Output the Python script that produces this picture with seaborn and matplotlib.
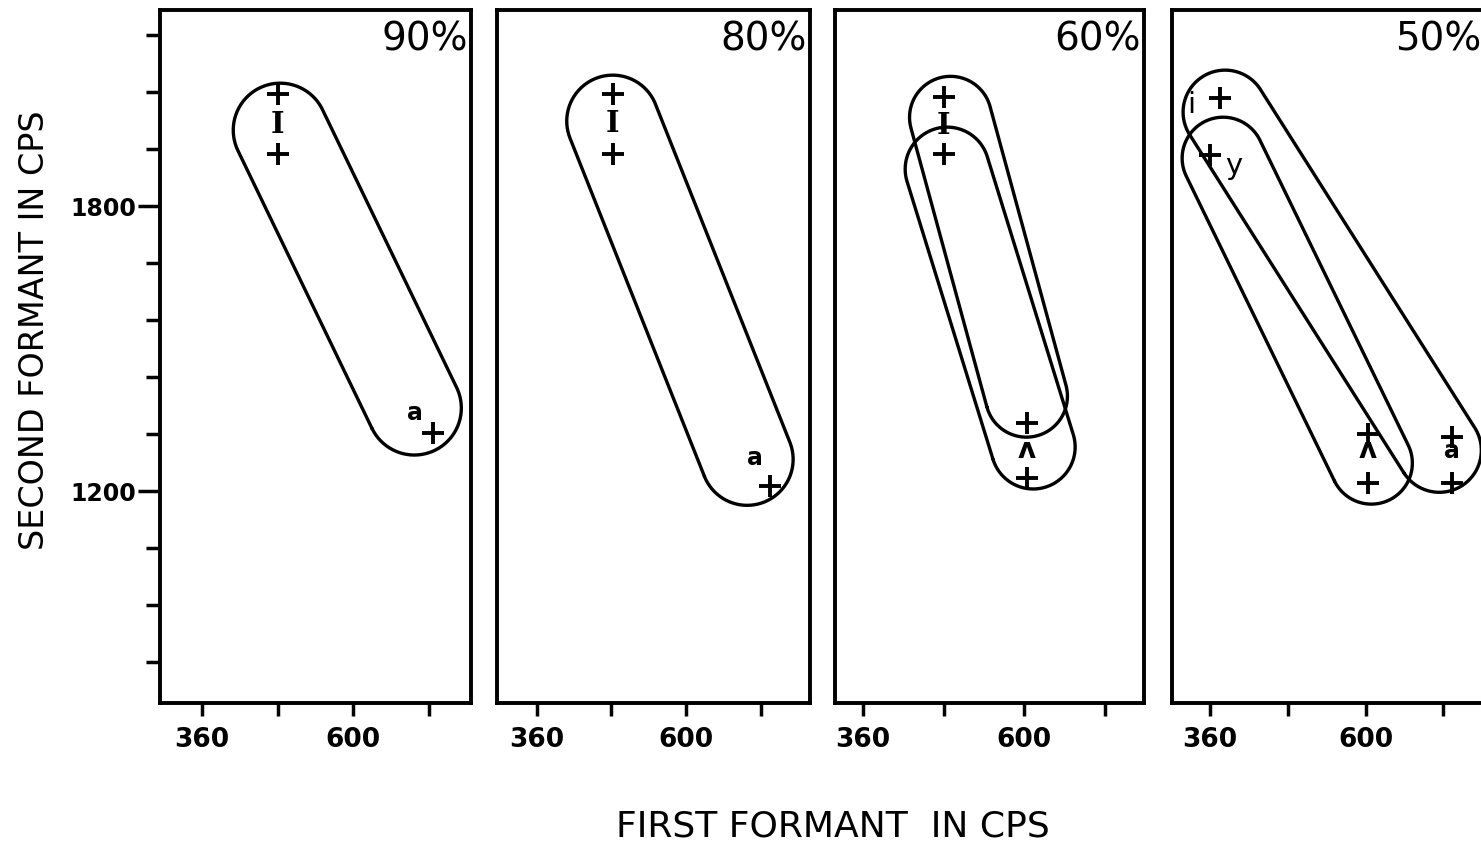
import numpy as np
import matplotlib
matplotlib.use("Agg")
import matplotlib.pyplot as plt
import seaborn as sns

# percent of the vowel heard, one panel each
panel_titles = ["90%", "80%", "60%", "50%"]

# "+" points: first formant / second formant (cps)
f1_90 = [480, 480, 727]
f2_90 = [2036, 1910, 1322]
f1_80 = [482, 482, 735]
f2_80 = [2036, 1910, 1210]
f1_60 = [480, 480, 604, 604]
f2_60 = [2030, 1910, 1343, 1227]
f1_50 = [375, 360, 604, 604, 734, 734]
f2_50 = [2027, 1907, 1320, 1217, 1314, 1217]

# vowel symbols written next to the points
sym_90 = ["I", "a"]
sym_f1_90 = [480, 698]
sym_f2_90 = [1972, 1364]
sym_80 = ["I", "a"]
sym_f1_80 = [482, 710]
sym_f2_80 = [1975, 1270]
sym_60 = ["I", "ʌ"]
sym_f1_60 = [480, 604]
sym_f2_60 = [1970, 1286]
sym_50 = ["i", "y", "ʌ", "a"]
sym_f1_50 = [331, 397, 604, 734]
sym_f2_50 = [2012, 1884, 1286, 1284]

# enclosing loops: centre of upper end and lower end (F1, F2)
loop_top_f1_90, loop_top_f2_90 = [484], [1960]
loop_bot_f1_90, loop_bot_f2_90 = [697], [1375]
loop_top_f1_80, loop_top_f2_80 = [482], [1979]
loop_bot_f1_80, loop_bot_f2_80 = [698], [1267]
loop_top_f1_60, loop_top_f2_60 = [490, 485], [1987, 1878]
loop_bot_f1_60, loop_bot_f2_60 = [603, 613], [1400, 1293]
loop_top_f1_50, loop_top_f2_50 = [383, 380], [1998, 1901]
loop_bot_f1_50, loop_bot_f2_50 = [714, 609], [1286, 1259]

x_ticks = [360, 480, 600, 720]
x_ticklabels = ["360", "", "600", ""]
y_major = [1200, 1800]
y_minor = [840, 960, 1080, 1320, 1440, 1560, 1680, 1920, 2040, 2160]

points = [(f1_90, f2_90), (f1_80, f2_80), (f1_60, f2_60), (f1_50, f2_50)]
symbols = [(sym_90, sym_f1_90, sym_f2_90), (sym_80, sym_f1_80, sym_f2_80),
           (sym_60, sym_f1_60, sym_f2_60), (sym_50, sym_f1_50, sym_f2_50)]
loops = [(loop_top_f1_90, loop_top_f2_90, loop_bot_f1_90, loop_bot_f2_90),
         (loop_top_f1_80, loop_top_f2_80, loop_bot_f1_80, loop_bot_f2_80),
         (loop_top_f1_60, loop_top_f2_60, loop_bot_f1_60, loop_bot_f2_60),
         (loop_top_f1_50, loop_top_f2_50, loop_bot_f1_50, loop_bot_f2_50)]

# layout (pixels) and loop widths
W, H = 1481, 846
lefts = [160, 497, 835, 1172]
widths = [311, 313, 309, 312]
x_limits = [(293, 787), (296, 799), (318, 778), (301, 783)]
y_limits = (754, 2213)
loop_radius = [[47], [46], [41, 42], [42, 41]]

sns.set_style("white")
plt.rcParams['font.family'] = ['DejaVu Sans']
plt.rcParams['text.color'] = 'black'
plt.rcParams['xtick.color'] = 'black'
plt.rcParams['ytick.color'] = 'black'
plt.rcParams['axes.edgecolor'] = 'black'

fig = plt.figure(figsize=(W / 100, H / 100), dpi=100)


def draw_loop(ax, top, bot, r, n=80):
    p1 = ax.transData.transform(top)
    p2 = ax.transData.transform(bot)
    d = p2 - p1
    ang = np.arctan2(d[1], d[0])
    a2 = np.linspace(ang - np.pi / 2, ang + np.pi / 2, n)
    a1 = np.linspace(ang + np.pi / 2, ang + 3 * np.pi / 2, n)
    pts = np.vstack([p2 + r * np.c_[np.cos(a2), np.sin(a2)],
                     p1 + r * np.c_[np.cos(a1), np.sin(a1)]])
    pts = np.vstack([pts, pts[:1]])
    xy = ax.transData.inverted().transform(pts)
    ax.plot(xy[:, 0], xy[:, 1], color="black", lw=2.4, solid_joinstyle="round")


for i in range(4):
    ax = fig.add_axes([lefts[i] / W, 143 / H, widths[i] / W, 693 / H])
    ax.set_xlim(*x_limits[i])
    ax.set_ylim(*y_limits)

    f1, f2 = points[i]
    sns.scatterplot(x=f1, y=f2, marker="+", s=230, color="black",
                    linewidth=2.8, ax=ax, zorder=3)

    txt, sx, sy = symbols[i]
    for t, a, b in zip(txt, sx, sy):
        if t == "I":
            ax.text(a, b, t, ha="center", va="center", fontsize=21,
                    family="DejaVu Serif", weight="bold")
        elif t == "ʌ":
            ax.text(a, b, t, ha="center", va="center", fontsize=20, weight="bold")
        elif t in ("i", "y"):
            ax.text(a, b, t, ha="center", va="center", fontsize=21)
        else:
            ax.text(a, b, t, ha="center", va="center", fontsize=17, weight="bold")

    tf1, tf2, bf1, bf2 = loops[i]
    for k in range(len(tf1)):
        draw_loop(ax, (tf1[k], tf2[k]), (bf1[k], bf2[k]), loop_radius[i][k])

    ax.text(0.99, 0.985, panel_titles[i], transform=ax.transAxes,
            ha="right", va="top", fontsize=28)

    for s in ax.spines.values():
        s.set_linewidth(2.8)
        s.set_color("black")

    ax.set_xticks(x_ticks)
    ax.set_xticklabels(x_ticklabels, fontsize=19, weight="bold")
    ax.tick_params(axis="x", direction="out", length=9, width=2.5, pad=8,
                   bottom=True)
    if i == 0:
        ax.set_yticks(y_major)
        ax.set_yticklabels(["1200", "1800"], fontsize=17, weight="bold")
        ax.set_yticks(y_minor, minor=True)
        ax.tick_params(axis="y", which="major", direction="out", length=16,
                       width=2.5, pad=1, left=True)
        ax.tick_params(axis="y", which="minor", direction="out", length=10,
                       width=2.5, left=True)
    else:
        ax.set_yticks([])
    ax.set_xlabel("")
    ax.set_ylabel("")

fig.text(833 / W, 20 / H, "FIRST FORMANT  IN CPS", ha="center", va="center",
         fontsize=26)
fig.text(35 / W, 1 - 330 / H, "SECOND FORMANT IN CPS", ha="center", va="center",
         rotation=90, fontsize=24)

fig.savefig("out.png", dpi=100)
